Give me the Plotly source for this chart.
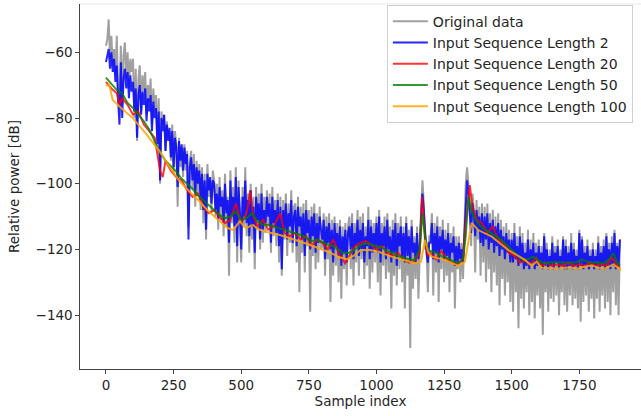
import plotly.graph_objects as go

# original data, every 5th sample
orig_x = list(range(0, 1901, 5))
orig_y = [
    -58, -56, -50, -62, -55, -64, -59, -67, -55, -72, -77, -58, -76, -61, -57, -68, -60, -71, -62, -66,
    -62, -80, -65, -87, -68, -64, -78, -67, -72, -66, -79, -70, -75, -68, -82, -71, -77, -73, -87, -74,
    -100, -78, -82, -79, -90, -81, -86, -84, -93, -82, -97, -84, -88, -107, -86, -95, -89, -98, -88, -96,
    -90, -113, -93, -90, -102, -91, -107, -93, -103, -94, -108, -95, -112, -97, -117, -94, -104, -99, -109, -96,
    -99, -110, -100, -114, -98, -111, -102, -116, -97, -113, -104, -128, -96, -112, -101, -118, -95, -124, -99, -110,
    -124, -101, -113, -95, -116, -103, -121, -100, -117, -104, -126, -101, -114, -103, -120, -100, -118, -104, -115, -102,
    -113, -103, -121, -101, -116, -105, -119, -103, -124, -104, -128, -105, -117, -103, -122, -106, -118, -102, -121, -107,
    -106, -124, -104, -133, -107, -121, -106, -127, -105, -119, -108, -139, -107, -122, -106, -126, -109, -124, -107, -120,
    -119, -109, -128, -110, -123, -109, -136, -111, -128, -110, -125, -112, -130, -111, -135, -113, -126, -112, -131, -113,
    -110, -126, -109, -131, -112, -124, -108, -128, -110, -123, -109, -129, -113, -125, -107, -132, -111, -127, -112, -124,
    -110, -130, -108, -134, -112, -125, -110, -129, -109, -127, -113, -138, -111, -128, -109, -131, -112, -126, -110, -130,
    -113, -138, -110, -128, -114, -150, -111, -132, -116, -129, -113, -135, -117, -108, -99, -106, -120, -118, -133, -116,
    -116, -109, -134, -112, -127, -110, -136, -113, -126, -111, -130, -114, -128, -112, -133, -115, -127, -113, -138, -116,
    -126, -116, -130, -118, -129, -110, -100, -95, -99, -105, -119, -103, -108, -127, -105, -117, -107, -128, -106, -124,
    -107, -130, -106, -126, -109, -133, -108, -127, -110, -131, -109, -137, -111, -129, -113, -134, -112, -130, -114, -136,
    -115, -139, -112, -133, -116, -144, -113, -135, -115, -138, -118, -133, -114, -140, -117, -136, -115, -141, -118, -134,
    -117, -138, -119, -146, -115, -133, -118, -139, -120, -135, -116, -136, -119, -134, -117, -140, -120, -133, -116, -137,
    -117, -139, -119, -134, -115, -137, -118, -135, -120, -138, -114, -142, -116, -136, -119, -134, -117, -139, -120, -135,
    -118, -141, -120, -135, -116, -139, -119, -134, -117, -138, -115, -136, -118, -140, -116, -133, -114, -137, -118, -140,
    -117,
]

# input sequence length 2, every 5th sample
len2_x = list(range(0, 1901, 5))
len2_y = [
    -63, -61, -59, -65, -60, -66, -62, -69, -64, -75, -82, -63, -80, -68, -65, -71, -66, -74, -67, -72,
    -69, -78, -71, -86, -73, -70, -79, -72, -76, -71, -81, -74, -78, -73, -84, -75, -80, -77, -88, -78,
    -99, -80, -84, -79, -90, -82, -87, -83, -92, -84, -95, -86, -89, -101, -87, -93, -88, -96, -89, -94,
    -91, -117, -95, -92, -99, -94, -103, -95, -100, -96, -105, -97, -108, -99, -114, -97, -102, -98, -106, -99,
    -100, -108, -103, -111, -101, -107, -104, -112, -100, -109, -105, -118, -99, -110, -104, -113, -98, -119, -101, -108,
    -120, -104, -110, -99, -112, -105, -116, -102, -113, -107, -121, -104, -111, -106, -117, -103, -114, -108, -112, -104,
    -110, -106, -118, -104, -112, -108, -115, -105, -119, -107, -126, -108, -114, -106, -117, -109, -113, -105, -118, -110,
    -108, -119, -107, -113, -110, -117, -109, -122, -108, -115, -111, -120, -110, -116, -109, -121, -112, -118, -110, -114,
    -117, -111, -123, -113, -118, -112, -120, -114, -124, -112, -119, -115, -122, -113, -125, -116, -121, -114, -124, -115,
    -113, -120, -112, -123, -115, -119, -111, -122, -114, -120, -112, -124, -116, -119, -111, -123, -113, -121, -115, -120,
    -112, -121, -110, -124, -115, -119, -113, -123, -111, -120, -116, -124, -114, -121, -112, -125, -115, -119, -113, -123,
    -115, -124, -112, -122, -116, -124, -113, -121, -118, -124, -115, -123, -119, -110, -103, -108, -117, -121, -124, -118,
    -118, -112, -123, -115, -121, -113, -124, -116, -120, -114, -123, -117, -122, -115, -124, -118, -121, -116, -125, -119,
    -124, -118, -123, -120, -124, -115, -104, -99, -103, -108, -115, -106, -109, -116, -108, -114, -110, -118, -109, -119,
    -110, -117, -109, -120, -112, -118, -111, -121, -113, -119, -112, -122, -114, -120, -116, -123, -115, -121, -117, -124,
    -117, -124, -115, -123, -119, -125, -116, -124, -118, -126, -121, -125, -117, -126, -120, -124, -118, -126, -121, -125,
    -119, -125, -121, -126, -116, -125, -120, -126, -122, -125, -118, -126, -121, -124, -119, -126, -122, -125, -117, -126,
    -119, -126, -121, -125, -118, -126, -120, -125, -122, -126, -115, -125, -117, -126, -121, -125, -119, -126, -122, -125,
    -120, -126, -122, -125, -118, -126, -121, -125, -119, -126, -116, -125, -120, -126, -118, -125, -115, -126, -119, -125,
    -117,
]

# input sequence length 20
len20_x = [0, 20, 40, 50, 60, 80, 100, 120, 140, 160, 180, 200, 210, 220, 240, 260, 280,
           300, 320, 340, 360, 380, 400, 420, 440, 460, 480, 500, 520, 533, 545, 560, 580,
           600, 620, 644, 660, 680, 700, 720, 740, 760, 780, 800, 820, 840, 860, 884, 900,
           920, 940, 960, 980, 1000, 1020, 1040, 1060, 1080, 1100, 1120, 1140, 1160, 1169,
           1180, 1190, 1200, 1220, 1240, 1260, 1280, 1300, 1320, 1330, 1345, 1355, 1370,
           1390, 1410, 1430, 1450, 1470, 1490, 1510, 1530, 1550, 1570, 1590, 1610, 1630,
           1650, 1670, 1690, 1710, 1730, 1750, 1770, 1790, 1810, 1830, 1850, 1870, 1890, 1900]
len20_y = [-69, -71, -72.5, -76, -74, -76, -79, -78, -82, -84, -86, -96, -98, -93, -96, -98, -99,
           -102, -104, -103, -107, -109, -108, -110, -112, -111, -106, -112, -109, -102, -110, -113, -111,
           -114, -113, -109, -115, -116, -115, -117, -116, -119, -117, -118, -120, -117, -121, -124.2, -122,
           -119, -118, -117.5, -118.5, -120, -119, -121, -122, -121, -123, -124, -123.5, -121, -104,
           -117, -122, -121, -123, -120.5, -123, -124, -124.5, -123, -112, -100.4, -107, -111,
           -112, -115, -113, -117, -118, -121, -122, -124, -123.5, -124.5, -122.5, -125, -124,
           -125, -124.5, -125, -124, -125, -124.5, -125, -124, -125, -124.5, -125, -122.5, -125, -125.5]

# input sequence length 50
len50_x = [0, 20, 40, 60, 80, 100, 120, 140, 160, 180, 200, 220, 240, 260, 280, 300, 320, 340,
           360, 380, 400, 420, 440, 460, 480, 500, 520, 540, 560, 580, 600, 620, 640, 660, 680,
           700, 720, 740, 760, 780, 800, 820, 840, 860, 880, 900, 920, 940, 960, 980, 1000, 1020,
           1040, 1060, 1080, 1100, 1120, 1140, 1160, 1170, 1180, 1190, 1200, 1220, 1240, 1260,
           1280, 1300, 1320, 1330, 1340, 1350, 1360, 1380, 1400, 1420, 1440, 1460, 1480, 1500,
           1520, 1540, 1560, 1580, 1600, 1620, 1640, 1660, 1680, 1700, 1720, 1740, 1760, 1780,
           1800, 1820, 1840, 1860, 1876, 1890, 1900]
len50_y = [-67.7, -69.5, -71.5, -72.5, -75.4, -77, -79, -81, -83.5, -87, -90.5, -93, -94.5, -96.3, -98.5, -100, -101.5, -103.5,
           -105, -106.5, -108, -109.5, -110.5, -110, -108.5, -111, -110.5, -109, -111.5, -112.5, -112.5, -113, -113.6, -114, -114.5,
           -115, -115.6, -116.5, -117.5, -117, -117.8, -118.5, -119, -120, -121.2, -121, -120, -118.7, -118.2, -118.5, -119, -119.5,
           -120.5, -121, -122, -122.5, -123, -123.2, -120, -109, -116, -120, -120.5, -121, -122, -122.5,
           -123.5, -124.2, -123, -116, -104, -108, -110, -112.5, -114, -114.8, -116, -117, -118.5, -120,
           -121.5, -123.2, -123, -122.2, -123.5, -124.2, -124, -123.8, -124, -124, -123.8, -123.9, -123, -123.8,
           -124, -123.9, -124.2, -123, -121.2, -124, -125]

# input sequence length 100
len100_x = [0, 10, 15, 25, 50, 100, 150, 200, 240, 274, 310, 347, 380, 421, 450, 470, 485, 495,
            510, 520, 535, 545, 560, 600, 643, 680, 717, 750, 791, 830, 860, 890, 915, 941, 976,
            1007, 1056, 1090, 1118, 1143, 1165, 1179, 1192, 1204, 1253, 1303, 1327, 1340, 1352,
            1376, 1426, 1488, 1549, 1574, 1592, 1611, 1672, 1710, 1746, 1770, 1796, 1820, 1845,
            1876, 1904]
len100_y = [-70.3, -69.8, -70.9, -74.5, -76.5, -80.1, -85, -90.3, -95.5, -99.4, -102.5, -105.5, -108.5, -111.6, -113.5, -114.1, -112.5, -111.4,
            -113, -113.6, -112.8, -112.6, -113.8, -114.8, -115.6, -116.5, -117.6, -118.5, -119.7, -121, -122.3, -123, -122, -120.2, -120.2,
            -120.7, -122.2, -123, -123.7, -124.2, -123.7, -117.1, -121, -122.2, -123.2, -125, -123.7, -117, -111.9,
            -114.1, -116.1, -120.2, -123.2, -125, -123.7, -125.6, -125.8, -125.5, -125.8, -125.3, -124.8, -125.6, -125.8,
            -124.6, -126.3]

x_ticks = [0, 250, 500, 750, 1000, 1250, 1500, 1750]
y_ticks = [-140, -120, -100, -80, -60]

series = [
    ("Original data", orig_x, orig_y, "rgba(128,128,128,0.75)"),
    ("Input Sequence Length 2", len2_x, len2_y, "rgba(0,0,255,0.85)"),
    ("Input Sequence Length 20", len20_x, len20_y, "rgba(255,0,0,0.8)"),
    ("Input Sequence Length 50", len50_x, len50_y, "rgba(0,128,0,0.8)"),
    ("Input Sequence Length 100", len100_x, len100_y, "rgba(255,165,0,0.85)"),
]

fig = go.Figure()
for name, xs, ys, col in series:
    fig.add_trace(go.Scatter(x=xs, y=ys, mode="lines", name=name,
                             line=dict(color=col, width=2)))

axis_style = dict(showline=True, linecolor="#444", linewidth=1.2, ticks="outside",
                  ticklen=3.5, tickcolor="#444", showgrid=False, zeroline=False,
                  automargin=False, tickfont=dict(size=13.5, color="#262626"))

fig.update_xaxes(range=[-96, 1978], tickvals=x_ticks, **axis_style,
                 title=dict(text="Sample index", font=dict(size=13.5, color="#262626"), standoff=3))
fig.update_yaxes(range=[-156.4, -45.3], tickvals=y_ticks, **axis_style,
                 title=dict(text="Relative power [dB]", font=dict(size=13.5, color="#262626"), standoff=12))

fig.add_shape(type="line", xref="paper", yref="paper", x0=0, x1=1, y0=1, y1=1,
              line=dict(color="#e8e8e8", width=1))

fig.update_layout(
    width=641, height=416,
    margin=dict(l=80, r=0, t=4, b=47),
    plot_bgcolor="white", paper_bgcolor="white",
    font=dict(family="DejaVu Sans", size=13.5, color="#262626"),
    legend=dict(x=0.547, y=0.998, xanchor="left", yanchor="top",
                bgcolor="rgba(255,255,255,0.8)", bordercolor="#d0d0d0", borderwidth=1,
                itemwidth=35, font=dict(size=14, color="#262626"), tracegroupgap=0),
    showlegend=True,
)

# the page body has a default 8px margin; drop it so the figure sits at the corner
fig.write_html("out.html", config={"displayModeBar": False},
               post_script="document.body.style.margin='0px';")
